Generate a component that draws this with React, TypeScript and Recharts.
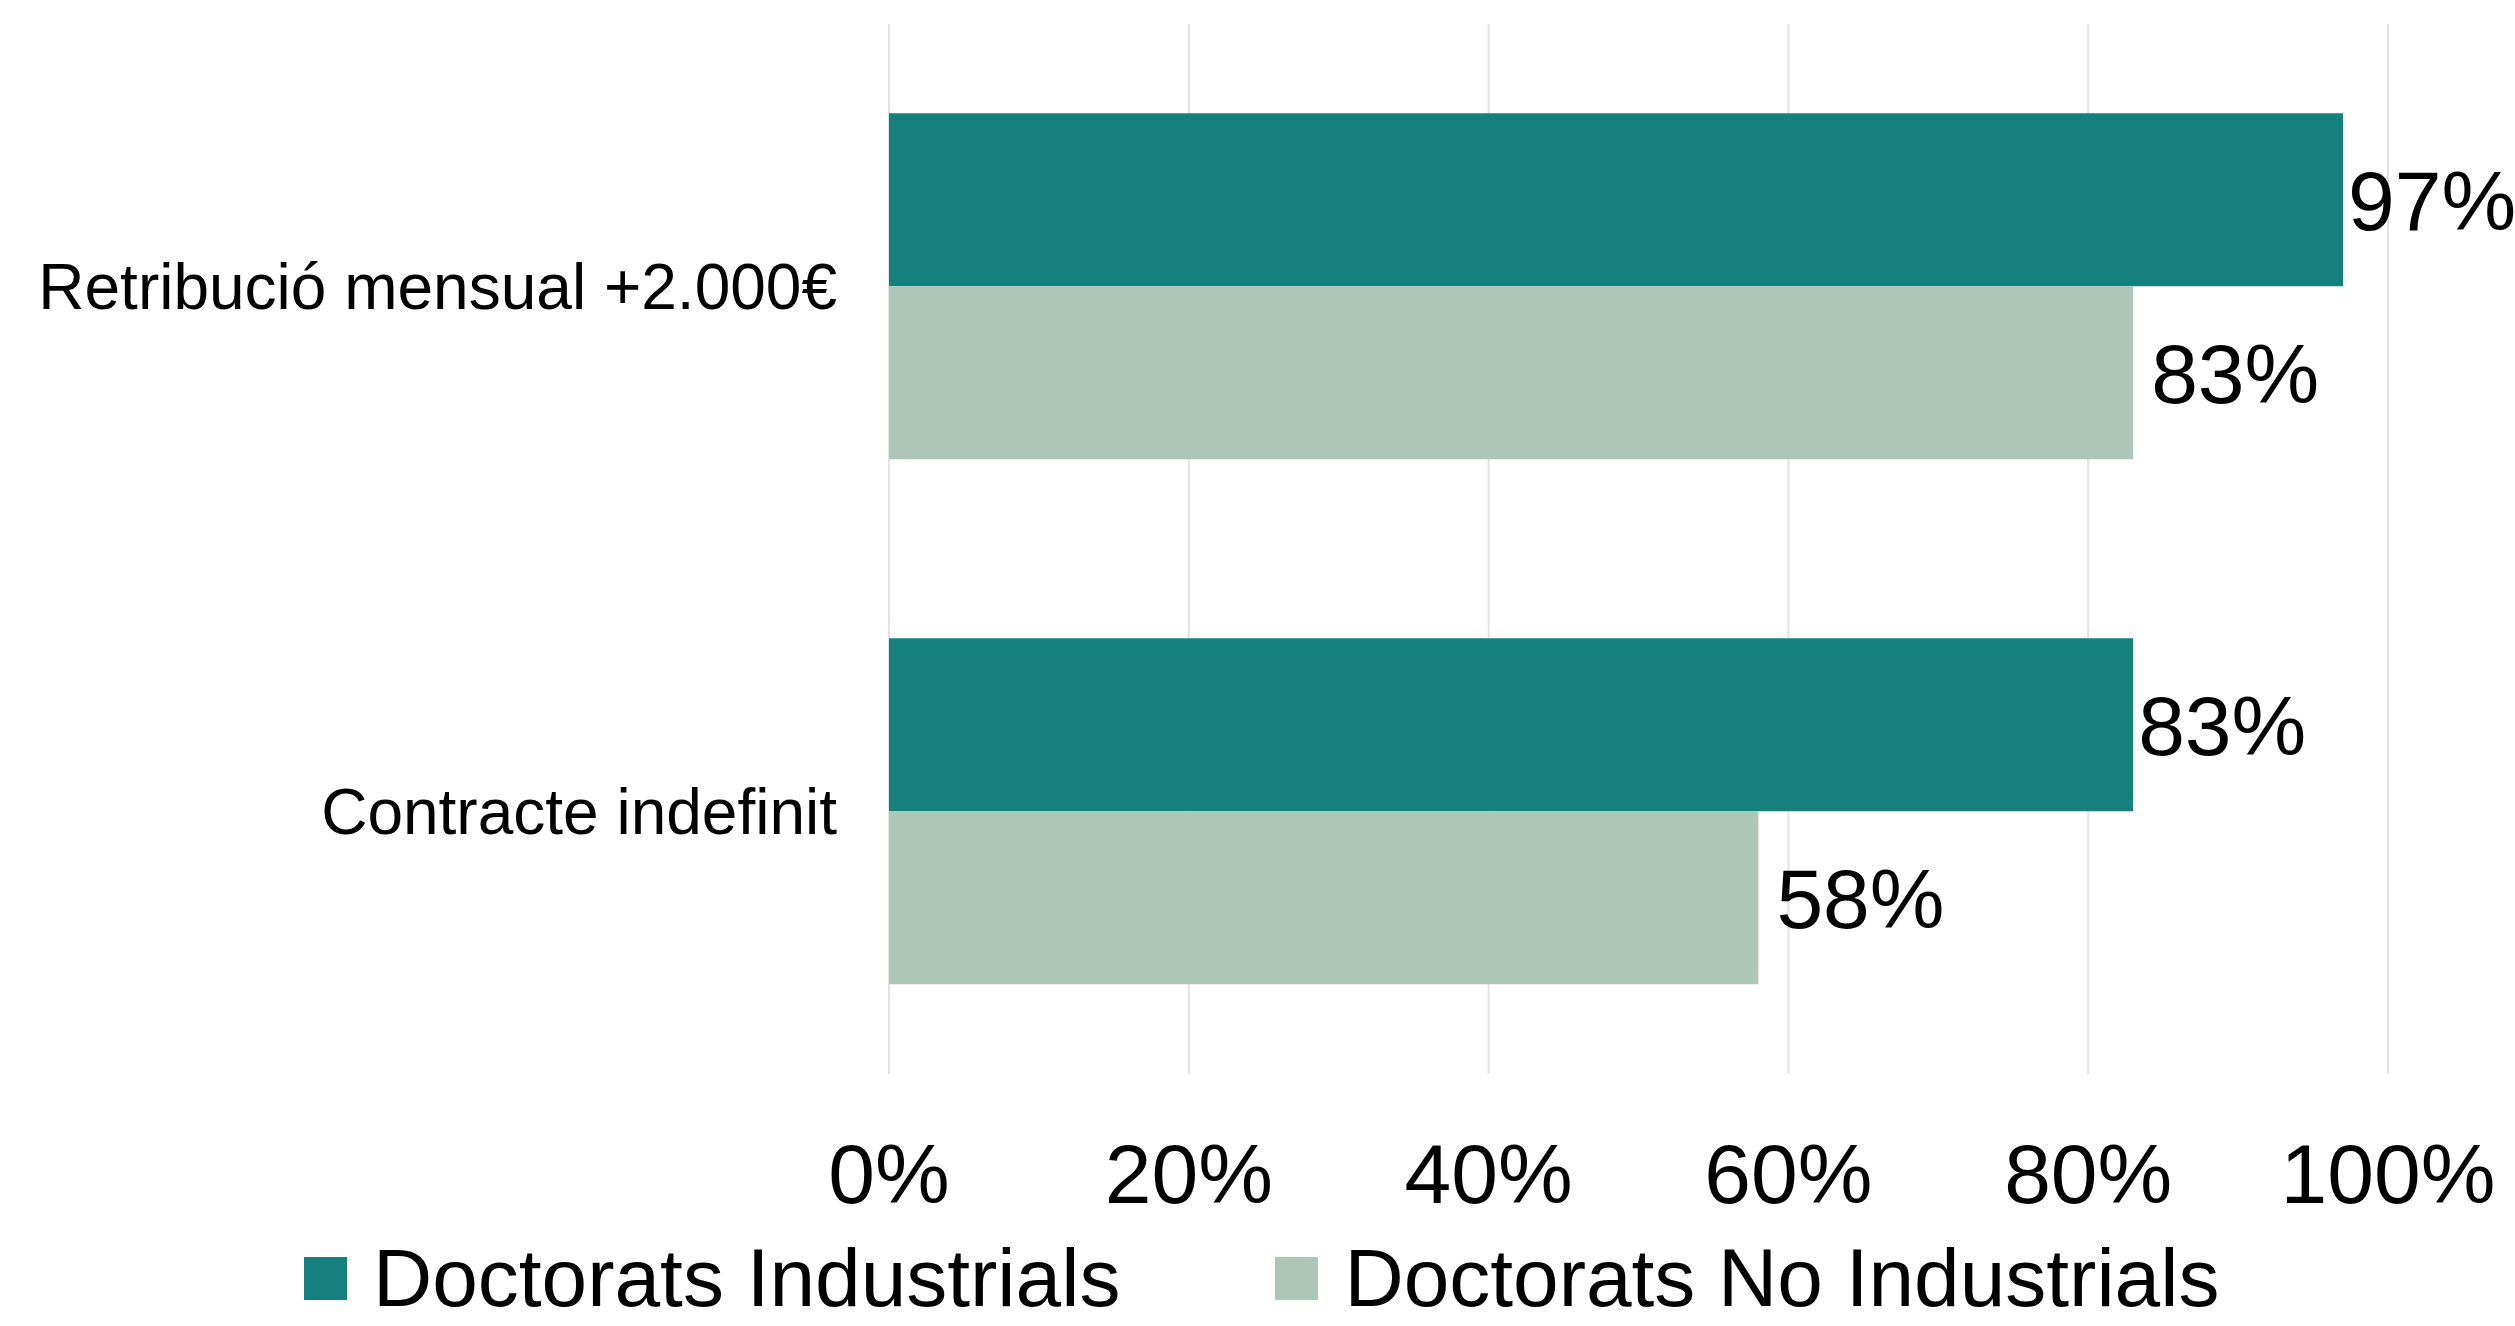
import { BarChart, Bar, XAxis, YAxis, CartesianGrid, Legend, LabelList } from 'recharts';

const categories = ['Retribució mensual +2.000€', 'Contracte indefinit'];
const industrials = [97, 83];
const noIndustrials = [83, 58];
const xTicks = [0, 20, 40, 60, 80, 100];

const data = categories.map((name, i) => ({
  name,
  industrials: industrials[i],
  noIndustrials: noIndustrials[i],
}));

const FONT = '"Liberation Sans", Arial, sans-serif';
const TEAL = '#15807e';
const SAGE = '#adc6b8';

function LegendContent({ payload }: any) {
  return (
    <div style={{ display: 'flex', alignItems: 'center', height: 64, fontFamily: FONT, fontSize: 82, color: '#000', whiteSpace: 'nowrap' }}>
      {(payload || []).map((entry: any, i: number) => (
        <div key={i} style={{ display: 'flex', alignItems: 'center', marginRight: 155 }}>
          <span style={{ display: 'inline-block', width: 43, height: 43, background: entry.color, marginRight: 26 }} />
          <span style={{ lineHeight: 0.75 }}>{entry.value}</span>
        </div>
      ))}
    </div>
  );
}

export default function App() {
  return (
    <div style={{ position: 'absolute', left: 0, top: 0, background: '#fff' }}>
      <BarChart
        width={2515}
        height={1326}
        data={data}
        layout="vertical"
        margin={{ top: 24, right: 127, left: 0, bottom: 112 }}
        barCategoryGap="17%"
        barGap={0}
      >
        <CartesianGrid horizontal={false} stroke="#e3e3e3" strokeWidth={2} />
        <XAxis
          type="number"
          domain={[0, 100]}
          ticks={xTicks}
          tickFormatter={(v) => `${v}%`}
          axisLine={false}
          tickLine={false}
          tickSize={0}
          tickMargin={69}
          height={140}
          interval={0}
          tick={{ fill: '#000', fontSize: 84, fontFamily: FONT }}
        />
        <YAxis
          type="category"
          dataKey="name"
          width={889}
          axisLine={false}
          tickLine={false}
          tickSize={0}
          tickMargin={52}
          tick={{ fill: '#000', fontSize: 64, fontFamily: FONT }}
        />
        <Legend
          layout="horizontal"
          verticalAlign="middle"
          align="center"
          wrapperStyle={{ left: 304, top: 1246, width: 2200, height: 64 }}
          content={<LegendContent />}
        />
        <Bar dataKey="industrials" name="Doctorats Industrials" fill={TEAL} isAnimationActive={false}>
          <LabelList
            dataKey="industrials"
            position="right"
            offset={5}
            formatter={(v: any) => `${v}%`}
            style={{ fill: '#000', fontSize: 84, fontFamily: FONT }}
          />
        </Bar>
        <Bar dataKey="noIndustrials" name="Doctorats No Industrials" fill={SAGE} isAnimationActive={false}>
          <LabelList
            dataKey="noIndustrials"
            position="right"
            offset={18}
            formatter={(v: any) => `${v}%`}
            style={{ fill: '#000', fontSize: 84, fontFamily: FONT }}
          />
        </Bar>
      </BarChart>
    </div>
  );
}
